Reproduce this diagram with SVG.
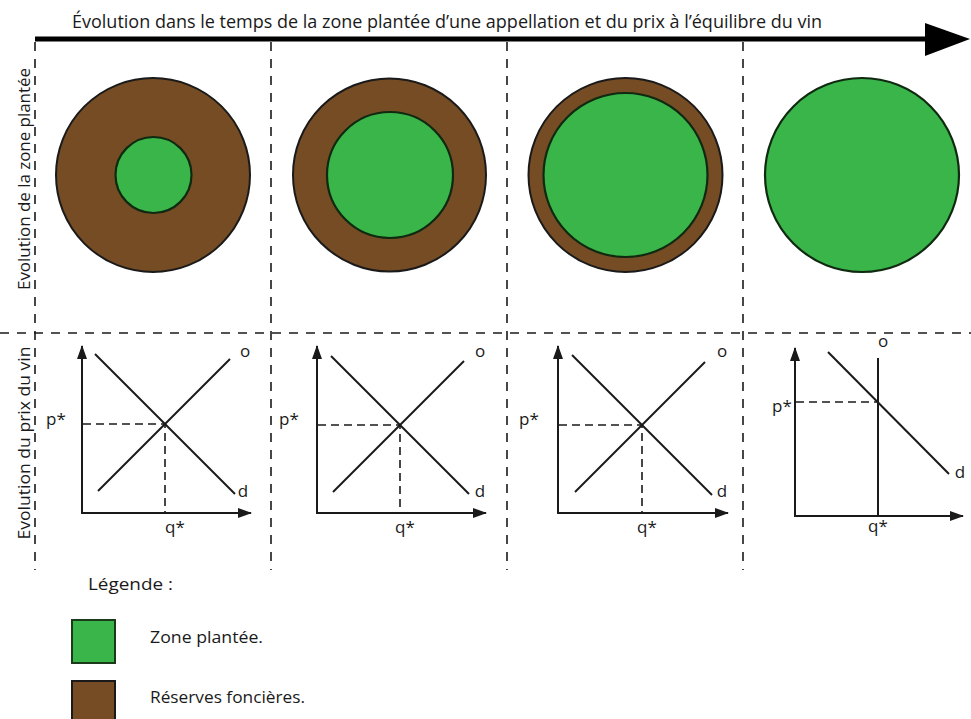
<svg xmlns="http://www.w3.org/2000/svg" width="971" height="719" viewBox="0 0 971 719">
<style>
text{font-family:"Open Sans","Noto Sans","Liberation Sans",sans-serif;fill:#1a1a1a}
.lbl{font-size:17px}
.row{font-size:17px}
.leg{font-size:16.5px}
.sep{stroke:#1a1a1a;stroke-width:1.6;stroke-dasharray:9 8;fill:none}
.ax{stroke:#1a1a1a;stroke-width:2;fill:none;marker-end:url(#ah)}
.ln{stroke:#1a1a1a;stroke-width:2;fill:none}
.dsh{stroke:#1a1a1a;stroke-width:1.6;stroke-dasharray:8 5;fill:none}
.brown{fill:#754c24;stroke:#1a1a1a;stroke-width:2}
.green{fill:#39b54a;stroke:#0f2a10;stroke-width:2.2}
</style>
<defs>
<marker id="ah" viewBox="0 0 14 10" refX="13" refY="5" markerWidth="14" markerHeight="10" markerUnits="userSpaceOnUse" orient="auto">
<path d="M0,0 L14,5 L0,10 z" fill="#1a1a1a"/>
</marker>
</defs>
<rect width="971" height="719" fill="#ffffff"/>

<g id="title">
<text x="72" y="28" font-size="18" textLength="750" lengthAdjust="spacingAndGlyphs">Évolution dans le temps de la zone plantée d’une appellation et du prix à l’équilibre du vin</text>
<line x1="35" y1="39" x2="930" y2="39" stroke="#000" stroke-width="5"/>
<polygon points="925,23 970,39 925,56" fill="#000"/>
</g>

<g id="separators">
<line class="sep" x1="35" y1="42" x2="35" y2="570"/>
<line class="sep" x1="271" y1="42" x2="271" y2="570"/>
<line class="sep" x1="507" y1="42" x2="507" y2="570"/>
<line class="sep" x1="743" y1="42" x2="743" y2="570"/>
<line class="sep" x1="0" y1="333" x2="971" y2="333"/>
</g>

<g id="row-labels">
<text class="row" transform="translate(30,179) rotate(-90)" text-anchor="middle" textLength="222" lengthAdjust="spacingAndGlyphs">Evolution de la zone plantée</text>
<text class="row" transform="translate(30,443) rotate(-90)" text-anchor="middle" textLength="193" lengthAdjust="spacingAndGlyphs">Evolution du prix du vin</text>
</g>

<g id="zone1">
<circle class="brown" cx="153" cy="175" r="97"/>
<circle class="green" cx="153.5" cy="175" r="38"/>
</g>
<g id="zone2">
<circle class="brown" cx="389.5" cy="175" r="96.5"/>
<circle class="green" cx="390" cy="175" r="63"/>
</g>
<g id="zone3">
<circle class="brown" cx="625.5" cy="175" r="97"/>
<circle class="green" cx="625.5" cy="175" r="82"/>
</g>
<g id="zone4">
<circle class="green" cx="862" cy="175" r="97"/>
</g>

<g id="chart1">
<path class="ax" d="M82,513 V346"/>
<path class="ax" d="M81,513 H251"/>
<line class="ln" x1="95" y1="354" x2="235" y2="494"/>
<line class="ln" x1="98" y1="491" x2="230" y2="359"/>
<path class="dsh" d="M83,424 H165 V512"/>
<text class="lbl" x="245" y="357" text-anchor="middle">o</text>
<text class="lbl" x="243" y="497" text-anchor="middle">d</text>
<text class="lbl" x="56" y="425" text-anchor="middle">p*</text>
<text class="lbl" x="175" y="533" text-anchor="middle">q*</text>
</g>

<g id="chart2">
<path class="ax" d="M317,513 V346"/>
<path class="ax" d="M316,513 H486"/>
<line class="ln" x1="331" y1="356" x2="469" y2="494"/>
<line class="ln" x1="333" y1="492" x2="464" y2="361"/>
<path class="dsh" d="M318,425 H400 V512"/>
<text class="lbl" x="480" y="357" text-anchor="middle">o</text>
<text class="lbl" x="480" y="497" text-anchor="middle">d</text>
<text class="lbl" x="289" y="425" text-anchor="middle">p*</text>
<text class="lbl" x="405" y="533" text-anchor="middle">q*</text>
</g>

<g id="chart3">
<path class="ax" d="M558,513 V346"/>
<path class="ax" d="M557,513 H728"/>
<line class="ln" x1="572" y1="355" x2="712" y2="495"/>
<line class="ln" x1="575" y1="492" x2="705" y2="362"/>
<path class="dsh" d="M559,425 H642 V512"/>
<text class="lbl" x="722" y="357" text-anchor="middle">o</text>
<text class="lbl" x="722" y="497" text-anchor="middle">d</text>
<text class="lbl" x="529" y="425" text-anchor="middle">p*</text>
<text class="lbl" x="647" y="533" text-anchor="middle">q*</text>
</g>

<g id="chart4">
<path class="ax" d="M795,516 V348"/>
<path class="ax" d="M794,516 H963"/>
<line class="ln" x1="878" y1="358" x2="878" y2="516"/>
<line class="ln" x1="828" y1="352" x2="949" y2="474"/>
<path class="dsh" d="M796,402 H878"/>
<text class="lbl" x="883" y="347" text-anchor="middle">o</text>
<text class="lbl" x="960" y="478" text-anchor="middle">d</text>
<text class="lbl" x="782" y="412" text-anchor="middle">p*</text>
<text class="lbl" x="878" y="532" text-anchor="middle">q*</text>
</g>

<g id="legend">
<text class="leg" x="88" y="590" textLength="85" lengthAdjust="spacingAndGlyphs">Légende :</text>
<rect x="72" y="620" width="43" height="43" fill="#39b54a" stroke="#1a3a1a" stroke-width="2"/>
<text class="leg" x="150" y="643" textLength="113" lengthAdjust="spacingAndGlyphs">Zone plantée.</text>
<rect x="72" y="681" width="43" height="43" fill="#754c24" stroke="#1a1a1a" stroke-width="2"/>
<text class="leg" x="150" y="703" textLength="155" lengthAdjust="spacingAndGlyphs">Réserves foncières.</text>
</g>
</svg>
